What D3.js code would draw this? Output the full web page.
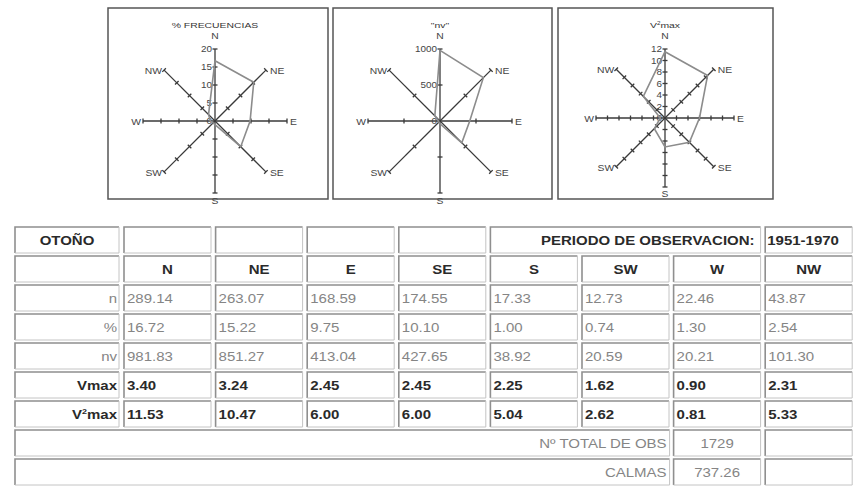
<!DOCTYPE html>
<html>
<head>
<meta charset="utf-8">
<script src="https://cdn.jsdelivr.net/npm/d3@7"></script>
<style>
  body { margin: 0; background: #fff; }
  svg { display: block; font-family: "Liberation Sans", Arial, sans-serif; }
</style>
</head>
<body>
<div id="chart"></div>
<script>
// data
const directions = ["N", "NE", "E", "SE", "S", "SW", "W", "NW"];
const nObs = [289.14, 263.07, 168.59, 174.55, 17.33, 12.73, 22.46, 43.87];
const pctFreq = [16.72, 15.22, 9.75, 10.10, 1.00, 0.74, 1.30, 2.54];
const nv = [981.83, 851.27, 413.04, 427.65, 38.92, 20.59, 20.21, 101.30];
const vmax = [3.40, 3.24, 2.45, 2.45, 2.25, 1.62, 0.90, 2.31];
const v2max = [11.53, 10.47, 6.00, 6.00, 5.04, 2.62, 0.81, 5.33];
const totalObs = 1729;
const calmas = 737.26;
const season = "OTOÑO";
const period = "1951-1970";

const width = 857, height = 490;

const svg = d3.select("#chart")
    .append("svg")
    .attr("width", width)
    .attr("height", height);

// text helper: the scan is stretched sideways, so glyphs get a horizontal scale
function txt(parent, x, y, s, o) {
    o = o || {};
    const size = o.size || 11;
    const t = parent.append("text")
        .attr("transform", `translate(${x},${y}) scale(${o.sx || 1},1)`)
        .attr("text-anchor", o.anchor || "start")
        .attr("font-size", size)
        .attr("font-weight", o.bold ? "bold" : "normal")
        .attr("fill", o.color || "#333");
    const sq = s.indexOf("²");
    if (sq >= 0) {
        t.append("tspan").text(s.slice(0, sq));
        t.append("tspan").attr("dy", -size * 0.4).attr("font-size", size * 0.6).text("2");
        t.append("tspan").attr("dy", size * 0.4).text(s.slice(sq + 1));
    } else {
        t.text(s);
    }
    return t;
}

// ---------- roses ----------
const panels = [
    { title: "% FRECUENCIAS", values: pctFreq, max: 20, step: 5,
      box: [108, 8, 220, 191], cx: 215, cy: 121, radius: 72, sOff: 11 },
    { title: "\"nv\"", values: nv, max: 1000, step: 500,
      box: [333, 8, 219, 191], cx: 440, cy: 121, radius: 72, sOff: 11 },
    { title: "V²max", values: v2max, max: 12, step: 2,
      box: [558, 8, 215, 191], cx: 665, cy: 118, radius: 69, sOff: 10 }
];

const angle = d3.scalePoint().domain(directions).range([0, 315]);

function rose(p) {
    svg.append("rect")
        .attr("x", p.box[0]).attr("y", p.box[1])
        .attr("width", p.box[2]).attr("height", p.box[3])
        .attr("fill", "#fff")
        .attr("stroke", "#555")
        .attr("stroke-width", 1.5);

    const g = svg.append("g")
        .attr("transform", `translate(${p.cx},${p.cy})`);

    const r = d3.scaleLinear().domain([0, p.max]).range([0, p.radius]);
    const ticks = d3.range(p.step, p.max + 1e-9, p.step);
    const rad = d => (angle(d) - 90) * Math.PI / 180;

    // axes
    g.selectAll("line.axis")
        .data(directions)
        .enter().append("line")
        .attr("class", "axis")
        .attr("x1", 0).attr("y1", 0)
        .attr("x2", d => r(p.max) * Math.cos(rad(d)))
        .attr("y2", d => r(p.max) * Math.sin(rad(d)))
        .attr("stroke", "#3a3a3a")
        .attr("stroke-width", 1.3);

    // tick marks across each axis
    const tickData = [];
    directions.forEach(d => ticks.forEach(t => tickData.push({ d, t })));
    g.selectAll("line.tick")
        .data(tickData)
        .enter().append("line")
        .attr("class", "tick")
        .each(function (k) {
            const a = rad(k.d), len = 2.5;
            const x = r(k.t) * Math.cos(a), y = r(k.t) * Math.sin(a);
            const px = -Math.sin(a) * len, py = Math.cos(a) * len;
            d3.select(this)
                .attr("x1", x - px).attr("y1", y - py)
                .attr("x2", x + px).attr("y2", y + py);
        })
        .attr("stroke", "#3a3a3a")
        .attr("stroke-width", 1.3);

    // value labels on the N axis
    [0].concat(ticks).forEach(t =>
        txt(g, -3, -r(t) + 3, String(t), { anchor: "end", size: 9, sx: 1.1, color: "#444" }));

    // data polygon
    g.append("path")
        .datum(p.values)
        .attr("d", d3.lineRadial()
            .angle((v, i) => angle(directions[i]) * Math.PI / 180)
            .radius(v => r(v))
            .curve(d3.curveLinearClosed))
        .attr("fill", "none")
        .attr("stroke", "#8c8c8c")
        .attr("stroke-width", 1.6);

    // direction labels
    const R = r(p.max), q = R * Math.SQRT1_2;
    const lab = {
        N:  [0, -R - 10, "middle"],
        NE: [q + 4, -q + 4, "start"],
        E:  [R + 3, 3.5, "start"],
        SE: [q + 4, q + 4, "start"],
        S:  [0, R + p.sOff, "middle"],
        SW: [-q - 2, q + 4, "end"],
        W:  [-R - 2, 3.5, "end"],
        NW: [-q - 2, -q + 4, "end"]
    };
    directions.forEach(d =>
        txt(g, lab[d][0], lab[d][1], d, { anchor: lab[d][2], size: 9, sx: 1.15, color: "#444" }));

    txt(g, 0, -R - 21, p.title, { anchor: "middle", size: 8, sx: 1.3, color: "#333" });
}

panels.forEach(rose);

// ---------- table ----------
const col0X = 15, col0W = 104;
const colX = d3.scaleBand().domain(directions).range([124, 124 + 91.6 * 8]);
const colW = 87;
const rowY = d3.scaleBand().domain(d3.range(9)).range([227, 227 + 29 * 9]);
const rowH = 26;

function cell(x, y, w, h) {
    const c = svg.append("g");
    c.append("rect").attr("x", x).attr("y", y).attr("width", w).attr("height", h).attr("fill", "#fff");
    c.append("path")
        .attr("d", `M${x},${y + h}V${y}H${x + w}`)
        .attr("fill", "none").attr("stroke", "#8f8f8f").attr("stroke-width", 1.6);
    c.append("path")
        .attr("d", `M${x + w},${y}V${y + h}H${x}`)
        .attr("fill", "none").attr("stroke", "#c4c4c4").attr("stroke-width", 1);
}

const baseY = j => rowY(j) + rowH / 2 + 4.5;
const dark = "#2a2a2a", grey = "#858585";
const SX = 1.25;
const tOpt = (anchor, bold, color) => ({ anchor, bold, color, size: 12, sx: SX });

// row 0
cell(col0X, rowY(0), col0W, rowH);
txt(svg, col0X + col0W / 2, baseY(0), season, tOpt("middle", true, dark));
directions.slice(0, 4).forEach(d => cell(colX(d), rowY(0), colW, rowH));
const mergeX = colX("S"), mergeW = colX("W") + colW - colX("S");
cell(mergeX, rowY(0), mergeW, rowH);
txt(svg, mergeX + mergeW - 6, baseY(0), "PERIODO DE OBSERVACION:", tOpt("end", true, dark));
cell(colX("NW"), rowY(0), colW, rowH);
txt(svg, colX("NW") + 2, baseY(0), period, tOpt("start", true, dark));

// row 1 : headers
cell(col0X, rowY(1), col0W, rowH);
directions.forEach(d => {
    cell(colX(d), rowY(1), colW, rowH);
    txt(svg, colX(d) + colW / 2, baseY(1), d, tOpt("middle", true, dark));
});

// value rows
const rows = [
    { label: "n", values: nObs, bold: false },
    { label: "%", values: pctFreq, bold: false },
    { label: "nv", values: nv, bold: false },
    { label: "Vmax", values: vmax, bold: true },
    { label: "V²max", values: v2max, bold: true }
];
rows.forEach((row, k) => {
    const j = k + 2;
    const color = row.bold ? dark : grey;
    cell(col0X, rowY(j), col0W, rowH);
    txt(svg, col0X + col0W - 2, baseY(j), row.label, tOpt("end", row.bold, color));
    directions.forEach((d, i) => {
        cell(colX(d), rowY(j), colW, rowH);
        txt(svg, colX(d) + 3, baseY(j), d3.format(".2f")(row.values[i]), tOpt("start", row.bold, color));
    });
});

// totals
const footer = [
    { label: "Nº TOTAL DE OBS", value: String(totalObs) },
    { label: "CALMAS", value: d3.format(".2f")(calmas) }
];
footer.forEach((f, k) => {
    const j = k + 7;
    const w = colX("W") - 4 - col0X;
    cell(col0X, rowY(j), w, rowH);
    txt(svg, col0X + w - 3, baseY(j), f.label, tOpt("end", false, grey));
    cell(colX("W"), rowY(j), colW, rowH);
    txt(svg, colX("W") + colW / 2, baseY(j), f.value, tOpt("middle", false, grey));
    cell(colX("NW"), rowY(j), colW, rowH);
});
</script>
</body>
</html>
